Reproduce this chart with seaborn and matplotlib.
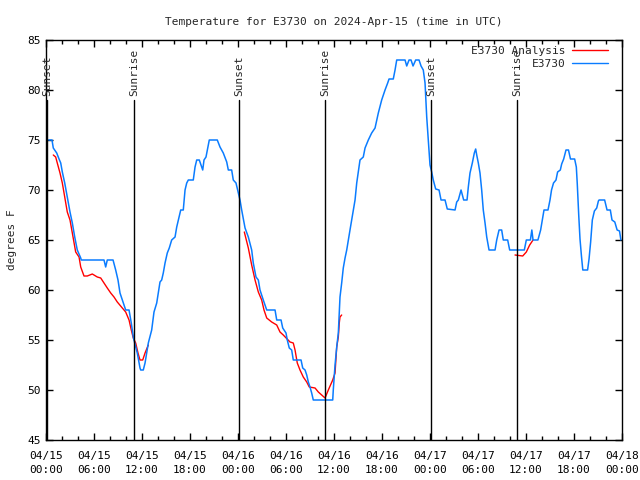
import numpy as np
import pandas as pd
import matplotlib
matplotlib.use('Agg')
import matplotlib.pyplot as plt
import matplotlib.dates as mdates
from matplotlib.lines import Line2D
import seaborn as sns

# 数据：小时数从 2024-04-15 00:00 UTC 起算
start = pd.Timestamp('2024-04-15 00:00')
end = pd.Timestamp('2024-04-18 00:00')

blue_hours = [0.34, 0.75, 0.91, 1.34, 1.63, 1.84, 2.04, 2.34, 2.66, 3.0, 3.29, 3.59, 3.91, 4.34, 4.41,
              7.25, 7.46, 7.66, 8.38, 8.71, 9.0, 9.25, 9.54, 9.96, 10.38, 10.66, 10.91, 11.09, 11.41,
              11.75, 11.84, 12.16, 12.38, 12.59, 12.79, 13.21, 13.5, 13.84, 14.04, 14.25, 14.46, 14.66,
              14.88, 15.16, 15.41, 15.71, 16.13, 16.34, 16.63, 16.84, 17.16, 17.38, 17.59, 17.79, 18.41,
              18.63, 18.84, 19.16, 19.38, 19.59, 19.75, 20.0, 20.29, 20.41, 21.41, 21.75, 22.16, 22.59,
              22.79, 23.21, 23.41, 23.75, 24.04, 24.25, 24.46, 24.88, 25.29, 25.71, 25.91, 26.25, 26.54,
              26.75, 27.16, 27.59, 28.63, 28.84, 29.38, 29.59, 30.0, 30.16, 30.41, 30.71, 30.91, 31.88,
              32.09, 32.38, 32.59, 32.79, 33.0, 33.21, 33.41, 35.84, 35.91, 36.13, 36.34, 36.54, 36.75,
              36.96, 37.16, 37.38, 37.59, 37.79, 38.0, 38.21, 38.41, 38.63, 38.84, 39.25, 39.66, 39.88,
              40.29, 40.71, 41.13, 41.54, 41.96, 42.38, 42.71, 42.88, 43.41, 43.63, 43.84, 44.88, 45.09,
              45.38, 45.63, 45.88, 46.21, 46.63, 46.88, 47.16, 47.38, 47.59, 47.79, 48.0, 48.21, 48.41,
              48.71, 49.13, 49.38, 49.88, 50.16, 51.13, 51.34, 51.54, 51.88, 52.04, 52.21, 52.63, 52.79,
              53.0, 53.29, 53.54, 53.71, 53.84, 54.04, 54.25, 54.46, 54.66, 54.88, 55.09, 55.38, 56.13,
              56.34, 56.63, 56.96, 57.16, 57.71, 57.96, 59.79, 60.04, 60.55, 60.73, 60.88, 61.49, 61.83,
              62.04, 62.25, 62.75, 63.0, 63.19, 63.44, 63.75, 63.95, 64.29, 64.46, 64.71, 65.0, 65.31,
              65.56, 66.08, 66.29, 66.41, 66.59, 66.75, 66.93, 67.1, 67.7, 67.88, 68.08, 68.29, 68.55,
              68.84, 69.05, 69.13, 69.83, 70.13, 70.54, 70.75, 71.1, 71.39, 71.69, 71.86]
blue_temps = [75, 75, 74.2, 73.7, 73.1, 72.7, 71.8, 70.7, 69.3, 67.8, 66.7, 65.3, 64, 63.2, 63,
              63, 62.3, 63, 63, 62, 61, 59.7, 59, 58, 58, 56.7, 55.3, 54.7, 53.7,
              52.2, 52, 52, 52.7, 53.7, 54.7, 56, 57.8, 58.7, 59.7, 60.8, 61, 61.7,
              62.7, 63.7, 64.2, 65, 65.3, 66.3, 67.3, 68, 68, 70, 70.7, 71, 71,
              72.3, 73, 73, 72.5, 72, 73, 73.3, 74.5, 75, 75, 74.3, 73.7, 72.8,
              72, 72, 71, 70.7, 69.7, 69, 68, 66.2, 65.3, 64, 62.7, 61.3, 61,
              60, 59, 58, 58, 57, 57, 56.2, 55.7, 55, 54.2, 54, 53, 53,
              52.2, 52, 51.5, 50.8, 50.3, 49.7, 49, 49, 50, 52.5, 54.3, 55.7, 59.3,
              60.7, 62.2, 63.2, 64, 65, 66, 67, 68, 69, 70.7, 73, 73.3, 74.2,
              75, 75.7, 76.2, 77.7, 79, 80, 80.7, 81.1, 81.1, 82, 83, 83, 82.4,
              83, 83, 82.4, 83, 83, 82.4, 82, 80.7, 77.3, 75, 72.5, 71.8, 71,
              70.1, 70, 69, 69, 68.1, 68, 68.8, 69, 70, 69.5, 69, 69, 70.3,
              71.7, 72.7, 73.7, 74.1, 73.5, 72.7, 71.7, 70, 68, 66.7, 65.3, 64, 64,
              65, 66, 66, 65, 65, 64, 64, 65, 65, 66, 65, 65, 66,
              67, 68, 68, 69, 70, 70.7, 71, 71.8, 72, 72.6, 73.1, 74, 74,
              73.1, 73.1, 72.3, 70.6, 67.5, 65.1, 63.4, 62, 62, 63.1, 64.8, 67, 67.9,
              68.2, 68.9, 69, 69, 68, 68, 67, 66.8, 66, 65.9, 65]

red_hours = [0.91, 1.21, 1.41, 1.75, 2.04, 2.34, 2.66, 3.0, 3.29, 3.71, 4.13, 4.34, 4.75, 5.16, 5.79,
             6.41, 6.84, 7.25, 7.66, 8.09, 8.5, 8.91, 9.54, 9.96, 10.38, 10.66, 10.91, 11.21, 11.5,
             11.75, 12.09, 12.38, 12.79,
             24.79, 25.29, 25.71, 26.13, 26.54, 26.96, 27.25, 27.59, 28.21, 28.84, 29.25, 29.66, 30.5,
             30.91, 31.13, 31.41, 31.75, 32.16, 32.59, 32.91, 33.63, 34.04, 34.46, 34.88, 35.29, 35.84,
             36.13, 36.34, 36.54, 36.66, 36.75, 36.96,
             58.63, 59.59, 60.04, 60.46, 60.88]
red_temps = [73.5, 73.3, 72.7, 71.7, 70.7, 69.3, 67.8, 67, 65.7, 63.8, 63.3, 62.3, 61.4, 61.4, 61.6,
             61.3, 61.2, 60.7, 60.2, 59.7, 59.3, 58.8, 58.2, 57.8, 57, 56, 55.2, 54.7, 53.7,
             53, 53, 53.7, 54.5,
             65.8, 64.2, 62.5, 61, 59.8, 59, 58, 57.2, 56.8, 56.5, 55.8, 55.5, 54.8,
             54.7, 54, 52.7, 52, 51.3, 50.8, 50.3, 50.2, 49.8, 49.5, 49.2, 50, 51,
             51.7, 54.3, 55.3, 56.7, 57.3, 57.5,
             63.5, 63.4, 63.8, 64.5, 65]
red_seg = [1] * 33 + [2] * 32 + [3] * 5

sun_hours = [0.1, 11.0, 24.12, 34.9, 48.13, 58.88]
sun_labels = ['Sunset', 'Sunrise', 'Sunset', 'Sunrise', 'Sunset', 'Sunrise']

blue_df = pd.DataFrame({'time': start + pd.to_timedelta(blue_hours, unit='h'), 'temp': blue_temps})
red_df = pd.DataFrame({'time': start + pd.to_timedelta(red_hours, unit='h'),
                       'temp': red_temps, 'seg': red_seg})

sns.set_style('ticks')
plt.rcParams['font.family'] = ['DejaVu Sans Mono', 'DejaVu Sans']
plt.rcParams['font.size'] = 8

BLUE = '#0a7cff'
RED = '#ff0000'

fig = plt.figure(figsize=(6.4, 4.8), dpi=100)
ax = fig.add_axes([46 / 640, 40 / 480, 576 / 640, 400 / 480])

sns.lineplot(data=red_df, x='time', y='temp', units='seg', estimator=None,
             color=RED, lw=1.0, legend=False, ax=ax, sort=False)
sns.lineplot(data=blue_df, x='time', y='temp', color=BLUE, lw=1.1, legend=False, ax=ax,
             estimator=None, sort=False)

# 日出日落竖线
for h, lab in zip(sun_hours, sun_labels):
    t = start + pd.Timedelta(hours=h)
    ax.plot([t, t], [45, 79], color='black', lw=1.0)
    ax.text(t, 79.4, lab, rotation=90, ha='center', va='bottom', fontsize=8)

ax.set_xlim(start, end)
ax.set_ylim(45, 85)
ax.yaxis.set_major_locator(plt.MultipleLocator(5))
ax.xaxis.set_major_locator(mdates.HourLocator(byhour=[0, 6, 12, 18]))
ax.xaxis.set_minor_locator(mdates.HourLocator(byhour=range(0, 24, 2)))
ax.xaxis.set_major_formatter(mdates.DateFormatter('%m/%d\n%H:%M'))
ax.tick_params(which='both', direction='in', top=True, right=True, colors='black', labelsize=8)
ax.tick_params(which='major', length=5, width=1)
ax.tick_params(which='minor', length=3, width=1)
ax.tick_params(axis='x', pad=8)
for lbl in ax.get_xticklabels():
    lbl.set_linespacing(1.45)
for s in ax.spines.values():
    s.set_color('black')
    s.set_linewidth(1.0)

ax.set_xlabel('')
ax.set_ylabel('degrees F', fontsize=8, labelpad=8)
ax.set_title('Temperature for E3730 on 2024-Apr-15 (time in UTC)', fontsize=8, pad=11)

handles = [Line2D([], [], color=RED, lw=1.0), Line2D([], [], color=BLUE, lw=1.0)]
ax.legend(handles, ['E3730 Analysis', 'E3730'], loc='upper right', frameon=False,
          markerfirst=False, fontsize=8, handlelength=3.2, handletextpad=0.6,
          labelspacing=0.3, borderaxespad=0.1, bbox_to_anchor=(0.985, 1.0))

fig.savefig('out.png', dpi=100)
